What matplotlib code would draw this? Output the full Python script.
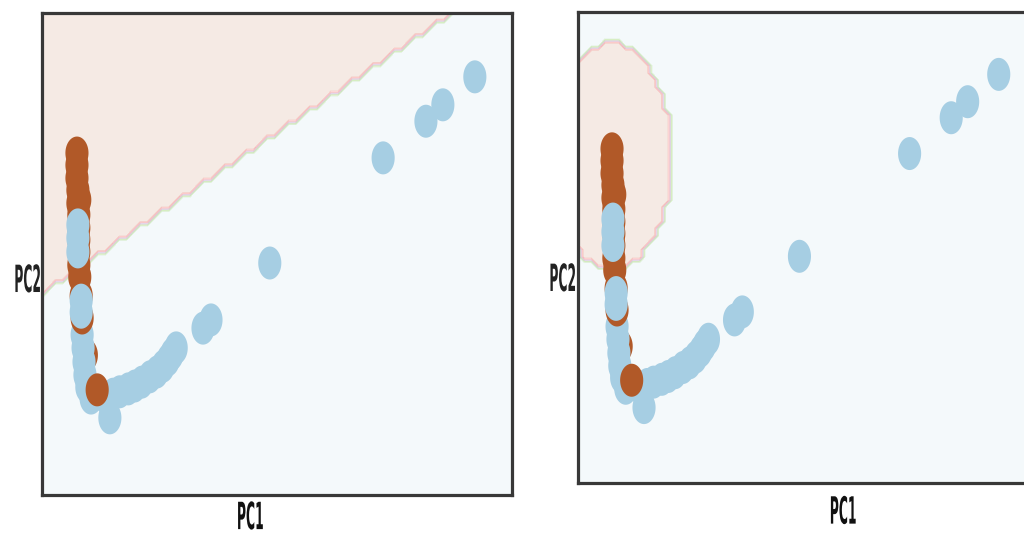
import numpy as np
import matplotlib
matplotlib.use("Agg")
import matplotlib.pyplot as plt
from matplotlib.path import Path
from matplotlib.patheffects import AbstractPathEffect
from matplotlib.transforms import Affine2D

# ---- data (PCA projection, two classes: 0 = light blue, 1 = brown) ----
pc1 = [0.75, 0.75, 0.75, 0.77, 0.81, 0.77, 0.79, 0.79, 0.79, 0.79, 0.79, 0.81,
       0.95,
       0.86, 0.88, 0.90, 0.92, 0.96, 1.05, 1.45, 1.35, 1.52, 1.66, 1.84, 1.98,
       2.13, 2.30, 2.45, 2.58, 2.69, 2.77, 2.86, 3.43, 3.60, 4.85, 7.26, 8.17,
       8.53, 9.21,
       0.84, 0.86,
       0.77, 0.77, 0.77, 0.84, 0.84,
       1.18]
pc2 = [7.09, 6.84, 6.57, 6.32, 6.12, 6.05, 5.81, 5.54, 5.29, 5.04, 4.77, 4.52,
       2.90,
       3.32, 3.05, 2.76, 2.49, 2.24, 2.01, 1.60, 2.03, 2.09, 2.14, 2.20, 2.26,
       2.34, 2.45, 2.55, 2.67, 2.80, 2.92, 3.05, 3.46, 3.63, 4.81, 6.99, 7.75,
       8.09, 8.67,
       4.13, 3.67,
       5.60, 5.33, 5.04, 4.04, 3.79,
       2.18]
label = [1, 1, 1, 1, 1, 1, 1, 1, 1, 1, 1, 1,
         1,
         0, 0, 0, 0, 0, 0, 0, 0, 0, 0, 0, 0,
         0, 0, 0, 0, 0, 0, 0, 0, 0, 0, 0, 0,
         0, 0,
         1, 1,
         0, 0, 0, 0, 0,
         1]

# decision models
linear_coef = [-0.665, 1.0]
linear_intercept = -4.17
rbf_center = [0.75, 6.92]
rbf_radii = [1.31, 2.40]

x_range = (0.0, 10.0)
y_range = (0.0, 10.0)
mesh_step = 0.15

class_colors = ["#a6cee3", "#b15928"]
band_colors = ["#a6cee3", "#b2df8a", "#cab2d6", "#fb9a99", "#b15928"]
fringe_colors = ["#b2df8a", "#cab2d6", "#fb9a99"]


class SqueezeX(AbstractPathEffect):
    """Horizontally condense the glyphs around a fixed anchor."""
    def __init__(self, sx, anchor="center"):
        super().__init__()
        self.sx = sx
        self.anchor = anchor

    def draw_path(self, renderer, gc, tpath, affine, rgbFace=None):
        ext = tpath.get_extents()
        if self.anchor == "left":
            cx = ext.x0
        else:
            cx = (ext.x0 + ext.x1) / 2.0
        t = Affine2D().translate(-cx, 0).scale(self.sx, 1.0).translate(cx, 0) + affine
        renderer.draw_path(gc, tpath, t, rgbFace)


# elliptical marker (reference is horizontally compressed)
theta = np.linspace(0, 2 * np.pi, 60)
ell = Path(np.column_stack([0.70 * np.cos(theta), np.sin(theta)]), closed=True)

xx, yy = np.meshgrid(np.arange(x_range[0], x_range[1] + mesh_step, mesh_step),
                     np.arange(y_range[0], y_range[1] + mesh_step, mesh_step))
z_lin = (linear_coef[0] * xx + linear_coef[1] * yy + linear_intercept > 0).astype(float)
z_rbf = ((((xx - rbf_center[0]) / rbf_radii[0]) ** 2 +
          ((yy - rbf_center[1]) / rbf_radii[1]) ** 2) < 1).astype(float)

fig = plt.figure(figsize=(10.24, 5.36), dpi=100)
ax1 = fig.add_axes([0.0407, 0.0765, 0.4593, 0.8998])
ax2 = fig.add_axes([0.5642, 0.0989, 0.4464, 0.8793])

colors = [class_colors[c] for c in label]

for ax, z, xl, yl in [(ax1, z_lin, (0.443, -0.05), (-0.0632, 0.4416)),
                      (ax2, z_rbf, (0.580, -0.065), (-0.0672, 0.4286))]:
    ax.contourf(xx, yy, z, levels=[-0.5, 0.15, 0.4, 0.6, 0.85, 1.5],
                colors=band_colors, alpha=0.12)
    ax.contour(xx, yy, z, levels=[0.3, 0.5, 0.7], colors=fringe_colors,
               linewidths=1.0, alpha=0.45)
    ax.scatter(pc1, pc2, c=colors, marker=ell, s=565, linewidths=0, zorder=3)
    ax.set_xlim(*x_range)
    ax.set_ylim(*y_range)
    ax.set_xticks([])
    ax.set_yticks([])
    for sp in ax.spines.values():
        sp.set_color("#383838")
        sp.set_linewidth(2.3)
    ax.set_xlabel("PC1", fontsize=27, fontweight="bold", color="#111111",
                  path_effects=[SqueezeX(0.33, "center")])
    ax.xaxis.set_label_coords(*xl)
    ax.xaxis.label.set_va("center")
    ax.set_ylabel("PC2", fontsize=27, fontweight="bold", color="#222222",
                  rotation=0, ha="left", va="center",
                  path_effects=[SqueezeX(0.33, "left")])
    ax.yaxis.set_label_coords(*yl)

fig.savefig("out.png", dpi=100)
